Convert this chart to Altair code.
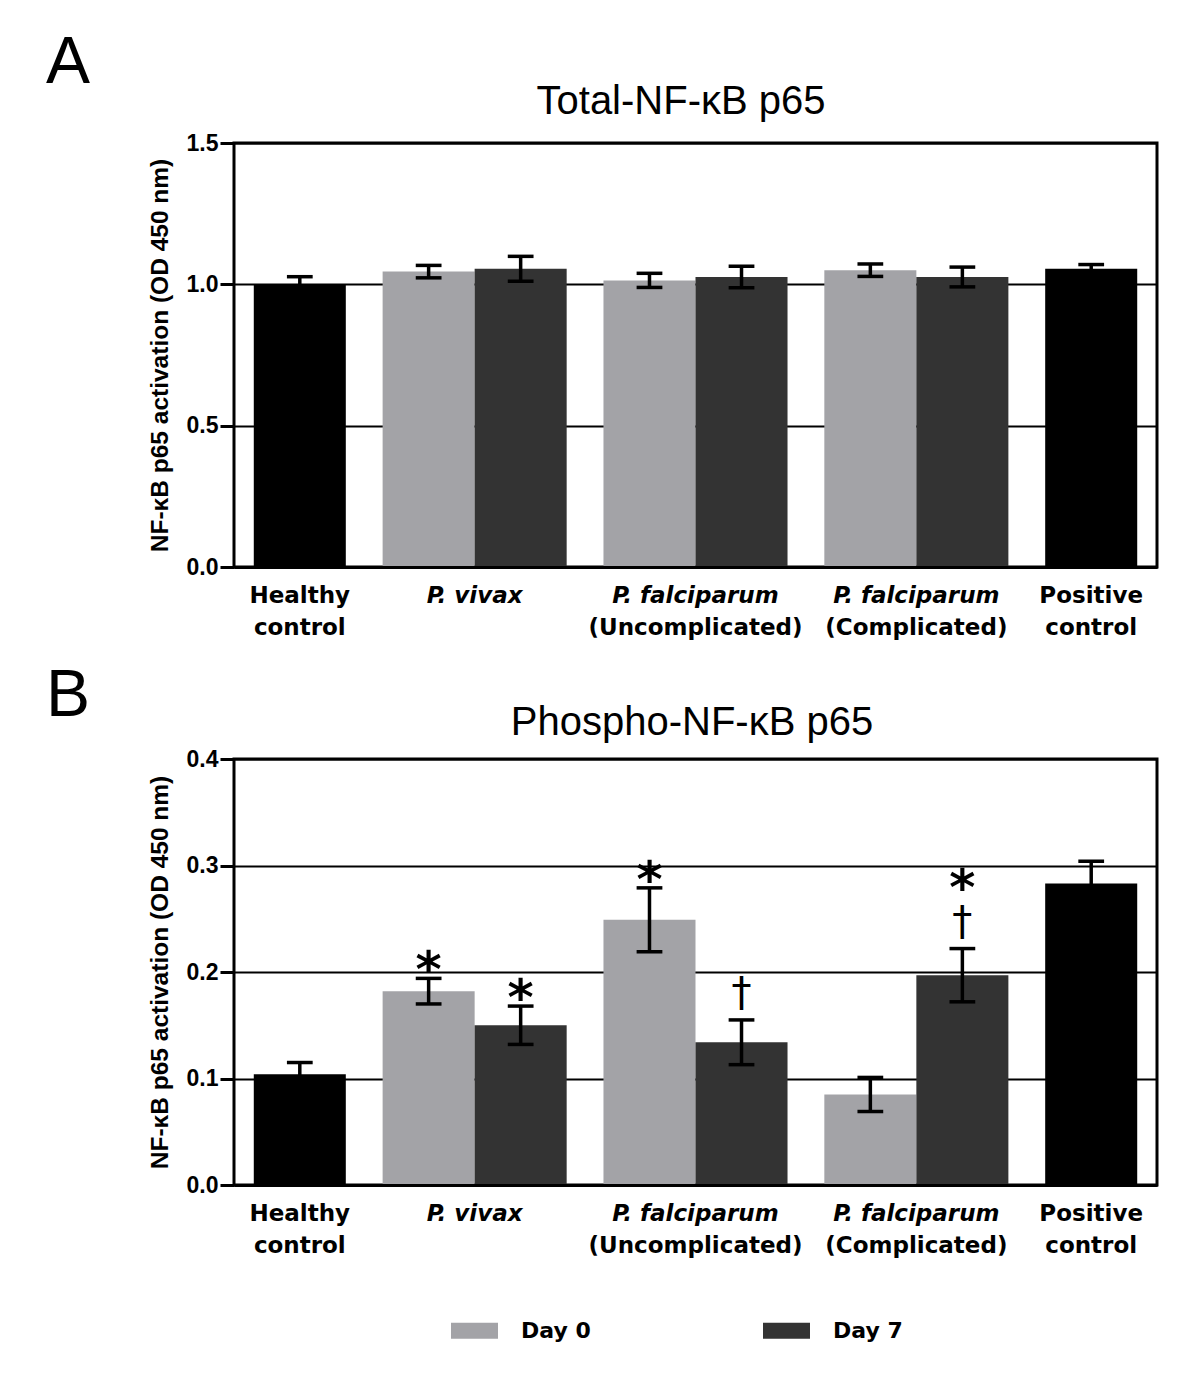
import altair as alt
import pandas as pd

# ---------------- data ----------------
groups = ["Healthy control", "P. vivax", "P. falciparum (Uncomplicated)",
          "P. falciparum (Complicated)", "Positive control"]
bar_group = [0, 1, 1, 2, 2, 3, 3, 4]
bar_series = ["Control", "Day 0", "Day 7", "Day 0", "Day 7", "Day 0", "Day 7", "Control"]

total_mean = [1.000, 1.045, 1.055, 1.014, 1.026, 1.050, 1.026, 1.055]
total_se = [0.027, 0.022, 0.044, 0.025, 0.038, 0.022, 0.035, 0.015]

phospho_mean = [0.104, 0.182, 0.150, 0.249, 0.134, 0.085, 0.197, 0.283]
phospho_se = [0.011, 0.012, 0.018, 0.030, 0.021, 0.016, 0.025, 0.021]

# significance marks on panel B: bar index, symbol, stacking level
mark_bar = [1, 2, 3, 4, 6, 6]
mark_symbol = ["*", "*", "*", "†", "†", "*"]
mark_level = [0, 0, 0, 0, 0, 1]

label_line1 = ["Healthy", "P. vivax", "P. falciparum", "P. falciparum", "Positive"]
label_line2 = ["control", "", "(Uncomplicated)", "(Complicated)", "control"]
label_italic = [False, True, True, True, False]

series_domain = ["Control", "Day 0", "Day 7"]
series_colors = ["#000000", "#a3a3a7", "#333333"]

# ---------------- layout helpers ----------------
GAP = 0.40      # gap between groups, in bar widths
OUTER = 0.215   # outer padding, in bar widths
CAP = 0.14      # half width of error caps, in bar widths
W = 923
LABEL_FONT = "DejaVu Sans"
AXIS_FONT = "Liberation Sans"
TITLE_FONT = "Liberation Sans"

n = len(bar_group)
x_domain = [-OUTER, n + GAP * (len(groups) - 1) + OUTER]
xscale = alt.Scale(domain=x_domain, nice=False, zero=False)
xaxis = alt.Axis(labels=False, ticks=False, grid=False, title=None,
                 domainWidth=3, domainColor="black", zindex=1)


def bar_table(means, ses):
    rows = []
    for k in range(n):
        x0 = k + bar_group[k] * GAP
        rows.append(dict(bar=k, group=groups[bar_group[k]], series=bar_series[k],
                         mean=means[k], lo=means[k] - ses[k], hi=means[k] + ses[k],
                         x0=x0, x1=x0 + 1, xc=x0 + 0.5, cl=x0 + 0.5 - CAP, cr=x0 + 0.5 + CAP))
    return pd.DataFrame(rows)


def label_table(bars):
    centers = bars.groupby("group", sort=False)["xc"].mean()
    return pd.DataFrame(dict(group=groups, gx=[centers[g] for g in groups],
                             l1=label_line1, l2=label_line2, it=label_italic))


def y_axis(y_ticks):
    return alt.Axis(values=y_ticks, format=".1f", title="NF-κB p65 activation (OD 450 nm)",
                    labelFont=AXIS_FONT, labelFontSize=23, labelFontWeight="bold",
                    labelColor="black", labelPadding=2,
                    tickSize=14, tickWidth=3, tickColor="black",
                    domain=False, grid=True, gridColor="black", gridWidth=2,
                    titleFont=AXIS_FONT, titleFontSize=24.5, titleFontWeight="bold",
                    titleColor="black", titlePadding=14)


def panel(means, ses, y_max, y_ticks, height, title, title_x, letter, letter_x, letter_y,
          title_y, show_legend, sig=None):
    bars = bar_table(means, ses)
    labels = label_table(bars)
    yscale = alt.Scale(domain=[0, y_max], nice=False, zero=True)
    yaxis = y_axis(y_ticks)

    if show_legend:
        legend = alt.Legend(orient="none", legendX=217, legendY=548, direction="horizontal",
                            columns=2, values=["Day 0", "Day 7"], title=None,
                            symbolType="M-1,-0.34H1V0.34H-1Z", symbolSize=2209,
                            symbolStrokeWidth=0, symbolOpacity=1,
                            labelFont=LABEL_FONT, labelFontSize=22, labelFontWeight="bold",
                            labelColor="black", labelOffset=23, columnPadding=172, padding=0)
    else:
        legend = None

    base = alt.Chart(bars)
    bar_layer = base.mark_bar(opacity=1).encode(
        x=alt.X("x0:Q", scale=xscale, axis=xaxis),
        x2="x1:Q",
        y=alt.Y("mean:Q", scale=yscale, axis=yaxis),
        y2=alt.datum(0),
        color=alt.Color("series:N", scale=alt.Scale(domain=series_domain, range=series_colors),
                        legend=legend),
    )
    whisker = base.mark_rule(color="black", strokeWidth=3.5).encode(
        x=alt.X("xc:Q", scale=xscale, axis=xaxis),
        y=alt.Y("lo:Q", scale=yscale, axis=yaxis), y2="hi:Q")
    cap_hi = base.mark_rule(color="black", strokeWidth=3.5).encode(
        x=alt.X("cl:Q", scale=xscale, axis=xaxis), x2="cr:Q",
        y=alt.Y("hi:Q", scale=yscale, axis=yaxis))
    cap_lo = base.mark_rule(color="black", strokeWidth=3.5).encode(
        x=alt.X("cl:Q", scale=xscale, axis=xaxis), x2="cr:Q",
        y=alt.Y("lo:Q", scale=yscale, axis=yaxis))

    lab = alt.Chart(labels)
    txt = dict(font=LABEL_FONT, fontSize=23, fontWeight="bold", color="black",
               align="center", baseline="alphabetic")
    line1_it = lab.transform_filter("datum.it").mark_text(fontStyle="italic", **txt).encode(
        x=alt.X("gx:Q", scale=xscale, axis=xaxis), y=alt.value(height + 36), text="l1:N")
    line1_n = lab.transform_filter("!datum.it").mark_text(**txt).encode(
        x=alt.X("gx:Q", scale=xscale, axis=xaxis), y=alt.value(height + 36), text="l1:N")
    line2 = lab.mark_text(**txt).encode(
        x=alt.X("gx:Q", scale=xscale, axis=xaxis), y=alt.value(height + 68), text="l2:N")

    head = alt.Chart(pd.DataFrame({"t": [title], "l": [letter]}))
    title_layer = head.mark_text(font=TITLE_FONT, fontSize=40, color="black",
                                 align="center", baseline="alphabetic").encode(
        x=alt.value(title_x), y=alt.value(title_y), text="t:N")
    letter_layer = head.mark_text(font=TITLE_FONT, fontSize=66, color="black",
                                  align="left", baseline="alphabetic").encode(
        x=alt.value(letter_x), y=alt.value(letter_y), text="l:N")

    layers = [bar_layer, whisker, cap_hi, cap_lo, line1_it, line1_n, line2,
              title_layer, letter_layer]

    if sig is not None:
        sdf = pd.DataFrame(dict(bar=sig[0], sym=sig[1], level=sig[2]))
        sdf = sdf.merge(bars[["bar", "xc", "hi"]], on="bar")
        specs = [("*", 0, 9, 50, "bold"), ("†", 0, -14, 40, "normal"),
                 ("*", 1, -44, 50, "bold")]
        for sym, lvl, dy, fs, fw in specs:
            d = sdf[(sdf.sym == sym) & (sdf.level == lvl)]
            if len(d) == 0:
                continue
            layers.append(alt.Chart(d).mark_text(font=LABEL_FONT, fontSize=fs, fontWeight=fw,
                                                 color="black", align="center",
                                                 baseline="alphabetic", dy=dy).encode(
                x=alt.X("xc:Q", scale=xscale, axis=xaxis),
                y=alt.Y("hi:Q", scale=yscale, axis=yaxis),
                text="sym:N"))

    return alt.layer(*layers).properties(width=W, height=height)


panel_a = panel(total_mean, total_se, 1.5, [0, 0.5, 1.0, 1.5], 424,
                "Total-NF-κB p65", 447, "A", -188, -60, -29, False)

panel_b = panel(phospho_mean, phospho_se, 0.4, [0, 0.1, 0.2, 0.3, 0.4], 426,
                "Phospho-NF-κB p65", 458, "B", -188, -43, -24, True,
                sig=(mark_bar, mark_symbol, mark_level))

chart = alt.vconcat(panel_a, panel_b, spacing=19).resolve_scale(color="independent").properties(
    padding={"left": 36, "top": 20, "right": 0, "bottom": 0}
).configure_view(stroke="black", strokeWidth=3)

chart.save("out.html", embed_options={"renderer": "svg", "actions": False})
